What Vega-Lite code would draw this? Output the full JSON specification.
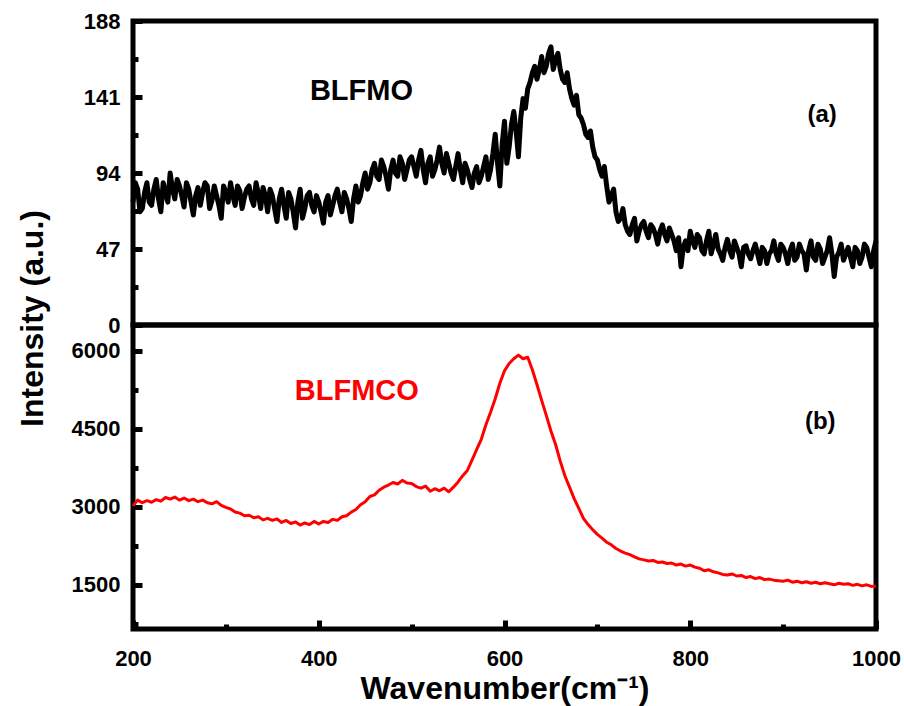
{
  "$schema": "https://vega.github.io/schema/vega-lite/v6.json",
  "padding": {"left": 13, "top": 7, "right": 4, "bottom": 2},
  "background": "white",
  "spacing": 0,
  "bounds": "flush",
  "config": {
    "view": {"stroke": "black", "strokeWidth": 5},
    "font": "Liberation Sans",
    "axis": {
      "labelFont": "Liberation Sans", "labelFontWeight": "bold", "labelFontSize": 22, "labelColor": "black",
      "titleFont": "Liberation Sans", "titleFontWeight": "bold", "titleFontSize": 32, "titleColor": "black",
      "domain": false, "grid": false, "tickColor": "black", "tickWidth": 5, "labelFlush": false, "labelOverlap": false, "format": "d"
    }
  },
  "datasets": {
    "top": [
      {"wn":200,"intensity":76},{"wn":202.5,"intensity":88},{"wn":205,"intensity":84},{"wn":207.5,"intensity":70},{"wn":210,"intensity":72},{"wn":212.5,"intensity":82},{"wn":215,"intensity":88},{"wn":217.5,"intensity":76},
      {"wn":220,"intensity":74},{"wn":222.5,"intensity":84},{"wn":225,"intensity":90},{"wn":227.5,"intensity":78},{"wn":230,"intensity":70},{"wn":232.5,"intensity":88},{"wn":235,"intensity":82},{"wn":237.5,"intensity":76},
      {"wn":240,"intensity":94},{"wn":242.5,"intensity":84},{"wn":245,"intensity":78},{"wn":247.5,"intensity":90},{"wn":250,"intensity":86},{"wn":252.5,"intensity":80},{"wn":255,"intensity":73},{"wn":257.5,"intensity":88},
      {"wn":260,"intensity":84},{"wn":262.5,"intensity":76},{"wn":265,"intensity":68},{"wn":267.5,"intensity":80},{"wn":270,"intensity":85},{"wn":272.5,"intensity":74},{"wn":275,"intensity":82},{"wn":277.5,"intensity":88},
      {"wn":280,"intensity":86},{"wn":282.5,"intensity":72},{"wn":285,"intensity":77},{"wn":287.5,"intensity":86},{"wn":290,"intensity":80},{"wn":292.5,"intensity":74},{"wn":295,"intensity":66},{"wn":297.5,"intensity":86},
      {"wn":300,"intensity":82},{"wn":302.5,"intensity":76},{"wn":305,"intensity":88},{"wn":307.5,"intensity":80},{"wn":310,"intensity":74},{"wn":312.5,"intensity":86},{"wn":315,"intensity":83},{"wn":317.5,"intensity":72},
      {"wn":320,"intensity":79},{"wn":322.5,"intensity":84},{"wn":325,"intensity":86},{"wn":327.5,"intensity":78},{"wn":330,"intensity":74},{"wn":332.5,"intensity":88},{"wn":335,"intensity":81},{"wn":337.5,"intensity":72},
      {"wn":340,"intensity":85},{"wn":342.5,"intensity":80},{"wn":345,"intensity":70},{"wn":347.5,"intensity":84},{"wn":350,"intensity":80},{"wn":352.5,"intensity":72},{"wn":355,"intensity":64},{"wn":357.5,"intensity":78},
      {"wn":360,"intensity":84},{"wn":362.5,"intensity":74},{"wn":365,"intensity":66},{"wn":367.5,"intensity":82},{"wn":370,"intensity":78},{"wn":372.5,"intensity":70},{"wn":375,"intensity":60},{"wn":377.5,"intensity":76},
      {"wn":380,"intensity":84},{"wn":382.5,"intensity":66},{"wn":385,"intensity":72},{"wn":387.5,"intensity":80},{"wn":390,"intensity":82},{"wn":392.5,"intensity":74},{"wn":395,"intensity":70},{"wn":397.5,"intensity":80},
      {"wn":400,"intensity":76},{"wn":402.5,"intensity":70},{"wn":405,"intensity":63},{"wn":407.5,"intensity":76},{"wn":410,"intensity":80},{"wn":412.5,"intensity":68},{"wn":415,"intensity":74},{"wn":417.5,"intensity":80},
      {"wn":420,"intensity":84},{"wn":422.5,"intensity":76},{"wn":425,"intensity":70},{"wn":427.5,"intensity":82},{"wn":430,"intensity":78},{"wn":432.5,"intensity":72},{"wn":435,"intensity":64},{"wn":437.5,"intensity":78},
      {"wn":440,"intensity":86},{"wn":442.5,"intensity":76},{"wn":445,"intensity":80},{"wn":447.5,"intensity":88},{"wn":450,"intensity":94},{"wn":452.5,"intensity":84},{"wn":455,"intensity":88},{"wn":457.5,"intensity":96},
      {"wn":460,"intensity":100},{"wn":462.5,"intensity":92},{"wn":465,"intensity":90},{"wn":467.5,"intensity":102},{"wn":470,"intensity":98},{"wn":472.5,"intensity":92},{"wn":475,"intensity":84},{"wn":477.5,"intensity":96},
      {"wn":480,"intensity":102},{"wn":482.5,"intensity":94},{"wn":485,"intensity":92},{"wn":487.5,"intensity":104},{"wn":490,"intensity":100},{"wn":492.5,"intensity":90},{"wn":495,"intensity":96},{"wn":497.5,"intensity":102},
      {"wn":500,"intensity":104},{"wn":502.5,"intensity":98},{"wn":505,"intensity":92},{"wn":507.5,"intensity":102},{"wn":510,"intensity":108},{"wn":512.5,"intensity":96},{"wn":515,"intensity":88},{"wn":517.5,"intensity":100},
      {"wn":520,"intensity":104},{"wn":522.5,"intensity":92},{"wn":525,"intensity":96},{"wn":527.5,"intensity":102},{"wn":530,"intensity":110},{"wn":532.5,"intensity":100},{"wn":535,"intensity":94},{"wn":537.5,"intensity":106},
      {"wn":540,"intensity":100},{"wn":542.5,"intensity":94},{"wn":545,"intensity":90},{"wn":547.5,"intensity":98},{"wn":550,"intensity":106},{"wn":552.5,"intensity":96},{"wn":555,"intensity":88},{"wn":557.5,"intensity":100},
      {"wn":560,"intensity":96},{"wn":562.5,"intensity":90},{"wn":565,"intensity":85},{"wn":567.5,"intensity":94},{"wn":570,"intensity":98},{"wn":572.5,"intensity":88},{"wn":575,"intensity":92},{"wn":577.5,"intensity":98},
      {"wn":580,"intensity":104},{"wn":582.5,"intensity":90},{"wn":585,"intensity":96},{"wn":587.5,"intensity":106},{"wn":590,"intensity":118},{"wn":592.5,"intensity":100},{"wn":595,"intensity":86},{"wn":597.5,"intensity":112},
      {"wn":600,"intensity":126},{"wn":602.5,"intensity":100},{"wn":605,"intensity":110},{"wn":607.5,"intensity":124},{"wn":610,"intensity":132},{"wn":612.5,"intensity":120},{"wn":615,"intensity":104},{"wn":617.5,"intensity":128},
      {"wn":620,"intensity":140},{"wn":622.5,"intensity":134},{"wn":625,"intensity":146},{"wn":627.5,"intensity":150},{"wn":630,"intensity":156},{"wn":632.5,"intensity":160},{"wn":635,"intensity":152},{"wn":637.5,"intensity":158},
      {"wn":640,"intensity":166},{"wn":642.5,"intensity":156},{"wn":645,"intensity":160},{"wn":647.5,"intensity":168},{"wn":650,"intensity":172},{"wn":652.5,"intensity":158},{"wn":655,"intensity":164},{"wn":657.5,"intensity":168},
      {"wn":660,"intensity":158},{"wn":662.5,"intensity":152},{"wn":665,"intensity":150},{"wn":667.5,"intensity":156},{"wn":670,"intensity":146},{"wn":672.5,"intensity":140},{"wn":675,"intensity":136},{"wn":677.5,"intensity":142},
      {"wn":680,"intensity":130},{"wn":682.5,"intensity":128},{"wn":685,"intensity":124},{"wn":687.5,"intensity":118},{"wn":690,"intensity":116},{"wn":692.5,"intensity":120},{"wn":695,"intensity":110},{"wn":697.5,"intensity":104},
      {"wn":700,"intensity":102},{"wn":702.5,"intensity":96},{"wn":705,"intensity":92},{"wn":707.5,"intensity":98},{"wn":710,"intensity":86},{"wn":712.5,"intensity":76},{"wn":715,"intensity":80},{"wn":717.5,"intensity":84},
      {"wn":720,"intensity":70},{"wn":722.5,"intensity":64},{"wn":725,"intensity":66},{"wn":727.5,"intensity":72},{"wn":730,"intensity":62},{"wn":732.5,"intensity":58},{"wn":735,"intensity":56},{"wn":737.5,"intensity":62},
      {"wn":740,"intensity":66},{"wn":742.5,"intensity":52},{"wn":745,"intensity":58},{"wn":747.5,"intensity":62},{"wn":750,"intensity":64},{"wn":752.5,"intensity":58},{"wn":755,"intensity":54},{"wn":757.5,"intensity":62},
      {"wn":760,"intensity":60},{"wn":762.5,"intensity":56},{"wn":765,"intensity":50},{"wn":767.5,"intensity":58},{"wn":770,"intensity":62},{"wn":772.5,"intensity":56},{"wn":775,"intensity":52},{"wn":777.5,"intensity":60},
      {"wn":780,"intensity":56},{"wn":782.5,"intensity":52},{"wn":785,"intensity":46},{"wn":787.5,"intensity":54},{"wn":790,"intensity":36},{"wn":792.5,"intensity":48},{"wn":795,"intensity":52},{"wn":797.5,"intensity":46},
      {"wn":800,"intensity":58},{"wn":802.5,"intensity":52},{"wn":805,"intensity":48},{"wn":807.5,"intensity":56},{"wn":810,"intensity":54},{"wn":812.5,"intensity":46},{"wn":815,"intensity":44},{"wn":817.5,"intensity":52},
      {"wn":820,"intensity":58},{"wn":822.5,"intensity":44},{"wn":825,"intensity":50},{"wn":827.5,"intensity":56},{"wn":830,"intensity":47},{"wn":832.5,"intensity":44},{"wn":835,"intensity":40},{"wn":837.5,"intensity":48},
      {"wn":840,"intensity":53},{"wn":842.5,"intensity":46},{"wn":845,"intensity":42},{"wn":847.5,"intensity":52},{"wn":850,"intensity":48},{"wn":852.5,"intensity":44},{"wn":855,"intensity":36},{"wn":857.5,"intensity":48},
      {"wn":860,"intensity":49},{"wn":862.5,"intensity":44},{"wn":865,"intensity":41},{"wn":867.5,"intensity":46},{"wn":870,"intensity":50},{"wn":872.5,"intensity":44},{"wn":875,"intensity":38},{"wn":877.5,"intensity":48},
      {"wn":880,"intensity":46},{"wn":882.5,"intensity":38},{"wn":885,"intensity":44},{"wn":887.5,"intensity":46},{"wn":890,"intensity":52},{"wn":892.5,"intensity":44},{"wn":895,"intensity":40},{"wn":897.5,"intensity":50},
      {"wn":900,"intensity":48},{"wn":902.5,"intensity":44},{"wn":905,"intensity":38},{"wn":907.5,"intensity":46},{"wn":910,"intensity":50},{"wn":912.5,"intensity":40},{"wn":915,"intensity":42},{"wn":917.5,"intensity":50},
      {"wn":920,"intensity":46},{"wn":922.5,"intensity":44},{"wn":925,"intensity":34},{"wn":927.5,"intensity":46},{"wn":930,"intensity":52},{"wn":932.5,"intensity":42},{"wn":935,"intensity":40},{"wn":937.5,"intensity":50},
      {"wn":940,"intensity":47},{"wn":942.5,"intensity":38},{"wn":945,"intensity":42},{"wn":947.5,"intensity":46},{"wn":950,"intensity":54},{"wn":952.5,"intensity":44},{"wn":955,"intensity":30},{"wn":957.5,"intensity":42},
      {"wn":960,"intensity":45},{"wn":962.5,"intensity":50},{"wn":965,"intensity":40},{"wn":967.5,"intensity":44},{"wn":970,"intensity":48},{"wn":972.5,"intensity":42},{"wn":975,"intensity":36},{"wn":977.5,"intensity":48},
      {"wn":980,"intensity":46},{"wn":982.5,"intensity":38},{"wn":985,"intensity":42},{"wn":987.5,"intensity":50},{"wn":990,"intensity":48},{"wn":992.5,"intensity":42},{"wn":995,"intensity":36},{"wn":997.5,"intensity":46},
      {"wn":1000,"intensity":52}
    ],
    "bottom": [
      {"wn":200,"intensity":3020},{"wn":205,"intensity":3130},{"wn":210,"intensity":3080},{"wn":215,"intensity":3120},{"wn":220,"intensity":3090},
      {"wn":225,"intensity":3140},{"wn":230,"intensity":3110},{"wn":235,"intensity":3180},{"wn":240,"intensity":3150},{"wn":245,"intensity":3190},
      {"wn":250,"intensity":3130},{"wn":255,"intensity":3170},{"wn":260,"intensity":3120},{"wn":265,"intensity":3150},{"wn":270,"intensity":3100},
      {"wn":275,"intensity":3130},{"wn":280,"intensity":3080},{"wn":285,"intensity":3060},{"wn":290,"intensity":3100},{"wn":295,"intensity":3030},
      {"wn":300,"intensity":2990},{"wn":305,"intensity":2960},{"wn":310,"intensity":2900},{"wn":315,"intensity":2880},{"wn":320,"intensity":2830},
      {"wn":325,"intensity":2840},{"wn":330,"intensity":2790},{"wn":335,"intensity":2810},{"wn":340,"intensity":2750},{"wn":345,"intensity":2780},
      {"wn":350,"intensity":2740},{"wn":355,"intensity":2770},{"wn":360,"intensity":2700},{"wn":365,"intensity":2740},{"wn":370,"intensity":2680},
      {"wn":375,"intensity":2710},{"wn":380,"intensity":2650},{"wn":385,"intensity":2690},{"wn":390,"intensity":2660},{"wn":395,"intensity":2720},
      {"wn":400,"intensity":2670},{"wn":405,"intensity":2720},{"wn":410,"intensity":2700},{"wn":415,"intensity":2760},{"wn":420,"intensity":2740},
      {"wn":425,"intensity":2810},{"wn":430,"intensity":2830},{"wn":435,"intensity":2900},{"wn":440,"intensity":2950},{"wn":445,"intensity":3040},
      {"wn":450,"intensity":3100},{"wn":455,"intensity":3200},{"wn":460,"intensity":3230},{"wn":465,"intensity":3320},{"wn":470,"intensity":3380},
      {"wn":475,"intensity":3420},{"wn":480,"intensity":3470},{"wn":485,"intensity":3440},{"wn":490,"intensity":3510},{"wn":495,"intensity":3460},
      {"wn":500,"intensity":3450},{"wn":505,"intensity":3390},{"wn":510,"intensity":3360},{"wn":515,"intensity":3400},{"wn":520,"intensity":3300},
      {"wn":525,"intensity":3350},{"wn":530,"intensity":3310},{"wn":535,"intensity":3360},{"wn":540,"intensity":3290},{"wn":545,"intensity":3380},
      {"wn":550,"intensity":3480},{"wn":555,"intensity":3600},{"wn":560,"intensity":3700},{"wn":565,"intensity":3900},{"wn":570,"intensity":4100},
      {"wn":575,"intensity":4300},{"wn":580,"intensity":4580},{"wn":585,"intensity":4820},{"wn":590,"intensity":5080},{"wn":595,"intensity":5380},
      {"wn":600,"intensity":5620},{"wn":605,"intensity":5760},{"wn":610,"intensity":5850},{"wn":615,"intensity":5920},{"wn":620,"intensity":5850},
      {"wn":625,"intensity":5880},{"wn":630,"intensity":5640},{"wn":635,"intensity":5350},{"wn":640,"intensity":5050},{"wn":645,"intensity":4760},
      {"wn":650,"intensity":4460},{"wn":655,"intensity":4200},{"wn":660,"intensity":3880},{"wn":665,"intensity":3600},{"wn":670,"intensity":3380},
      {"wn":675,"intensity":3160},{"wn":680,"intensity":2970},{"wn":685,"intensity":2780},{"wn":690,"intensity":2660},{"wn":695,"intensity":2560},
      {"wn":700,"intensity":2470},{"wn":705,"intensity":2400},{"wn":710,"intensity":2320},{"wn":715,"intensity":2270},{"wn":720,"intensity":2200},
      {"wn":725,"intensity":2150},{"wn":730,"intensity":2110},{"wn":735,"intensity":2080},{"wn":740,"intensity":2040},{"wn":745,"intensity":2000},
      {"wn":750,"intensity":1980},{"wn":755,"intensity":1960},{"wn":760,"intensity":1970},{"wn":765,"intensity":1930},{"wn":770,"intensity":1940},
      {"wn":775,"intensity":1910},{"wn":780,"intensity":1920},{"wn":785,"intensity":1880},{"wn":790,"intensity":1900},{"wn":795,"intensity":1860},
      {"wn":800,"intensity":1880},{"wn":805,"intensity":1840},{"wn":810,"intensity":1820},{"wn":815,"intensity":1770},{"wn":820,"intensity":1790},
      {"wn":825,"intensity":1750},{"wn":830,"intensity":1730},{"wn":835,"intensity":1700},{"wn":840,"intensity":1690},{"wn":845,"intensity":1710},
      {"wn":850,"intensity":1670},{"wn":855,"intensity":1680},{"wn":860,"intensity":1640},{"wn":865,"intensity":1660},{"wn":870,"intensity":1620},
      {"wn":875,"intensity":1640},{"wn":880,"intensity":1600},{"wn":885,"intensity":1610},{"wn":890,"intensity":1590},{"wn":895,"intensity":1580},
      {"wn":900,"intensity":1570},{"wn":905,"intensity":1590},{"wn":910,"intensity":1550},{"wn":915,"intensity":1570},{"wn":920,"intensity":1540},
      {"wn":925,"intensity":1560},{"wn":930,"intensity":1530},{"wn":935,"intensity":1550},{"wn":940,"intensity":1520},{"wn":945,"intensity":1540},
      {"wn":950,"intensity":1520},{"wn":955,"intensity":1500},{"wn":960,"intensity":1530},{"wn":965,"intensity":1510},{"wn":970,"intensity":1520},
      {"wn":975,"intensity":1490},{"wn":980,"intensity":1510},{"wn":985,"intensity":1480},{"wn":990,"intensity":1500},{"wn":995,"intensity":1470},
      {"wn":1000,"intensity":1480}
    ],
    "labels": [
      {"wn":446,"intensity":145,"label":"BLFMO"},
      {"wn":942,"intensity":130,"label":"(a)"},
      {"wn":441,"intensity":5230,"label":"BLFMCO"},
      {"wn":940,"intensity":4630,"label":"(b)"}
    ]
  },
  "vconcat": [
    {
      "width": 743, "height": 304,
      "layer": [
        {
          "data": {"name": "top"},
          "mark": {"type": "line", "color": "black", "strokeWidth": 5, "strokeJoin": "round"},
          "encoding": {
            "x": {"field": "wn", "type": "quantitative", "scale": {"domain": [200, 1000], "nice": false, "zero": false}, "axis": null},
            "y": {"field": "intensity", "type": "quantitative", "scale": {"domain": [0, 188], "nice": false},
                  "axis": {"orient": "left", "values": [0, 47, 94, 141, 188], "tickSize": -9, "labelPadding": 22,
                           "title": "Intensity (a.u.)", "titleX": -91, "titleY": 297, "titleBaseline": "alphabetic", "titleAngle": -90, "titleAlign": "center"}}
          }
        },
        {
          "data": {"name": "labels"},
          "transform": [{"filter": "datum.label === 'BLFMO'"}],
          "mark": {"type": "text", "font": "Liberation Sans", "fontWeight": "bold", "fontSize": 29, "color": "black"},
          "encoding": {
            "x": {"field": "wn", "type": "quantitative", "axis": null},
            "y": {"field": "intensity", "type": "quantitative",
                  "axis": {"orient": "left", "values": [23.5, 70.5, 117.5, 164.5], "labels": false, "tickSize": -5, "title": null}},
            "text": {"field": "label"}
          }
        },
        {
          "data": {"name": "labels"},
          "transform": [{"filter": "datum.label === '(a)'"}],
          "mark": {"type": "text", "font": "Liberation Sans", "fontWeight": "bold", "fontSize": 24, "color": "black"},
          "encoding": {
            "x": {"field": "wn", "type": "quantitative", "axis": null},
            "y": {"field": "intensity", "type": "quantitative", "axis": null},
            "text": {"field": "label"}
          }
        }
      ],
      "resolve": {"axis": {"y": "independent"}}
    },
    {
      "width": 743, "height": 304,
      "layer": [
        {
          "data": {"name": "bottom"},
          "mark": {"type": "line", "color": "#ff0000", "strokeWidth": 3, "strokeJoin": "round"},
          "encoding": {
            "x": {"field": "wn", "type": "quantitative", "scale": {"domain": [200, 1000], "nice": false, "zero": false},
                  "axis": {"orient": "bottom", "values": [200, 400, 600, 800, 1000], "tickSize": -9, "labelPadding": 28,
                           "title": "Wavenumber(cm⁻¹)", "titleY": 69, "titleBaseline": "alphabetic"}},
            "y": {"field": "intensity", "type": "quantitative", "scale": {"domain": [650, 6500], "nice": false, "zero": false},
                  "axis": {"orient": "left", "values": [1500, 3000, 4500, 6000], "tickSize": -9, "labelPadding": 22, "title": null}}
          }
        },
        {
          "data": {"name": "labels"},
          "transform": [{"filter": "datum.label === 'BLFMCO'"}],
          "mark": {"type": "text", "font": "Liberation Sans", "fontWeight": "bold", "fontSize": 29, "color": "#ff0000"},
          "encoding": {
            "x": {"field": "wn", "type": "quantitative",
                  "axis": {"orient": "bottom", "values": [300, 500, 700, 900], "labels": false, "tickSize": -5, "title": null}},
            "y": {"field": "intensity", "type": "quantitative",
                  "axis": {"orient": "left", "values": [750, 2250, 3750, 5250], "labels": false, "tickSize": -5, "title": null}},
            "text": {"field": "label"}
          }
        },
        {
          "data": {"name": "labels"},
          "transform": [{"filter": "datum.label === '(b)'"}],
          "mark": {"type": "text", "font": "Liberation Sans", "fontWeight": "bold", "fontSize": 24, "color": "black"},
          "encoding": {
            "x": {"field": "wn", "type": "quantitative", "axis": null},
            "y": {"field": "intensity", "type": "quantitative", "axis": null},
            "text": {"field": "label"}
          }
        }
      ],
      "resolve": {"axis": {"x": "independent", "y": "independent"}}
    }
  ]
}
